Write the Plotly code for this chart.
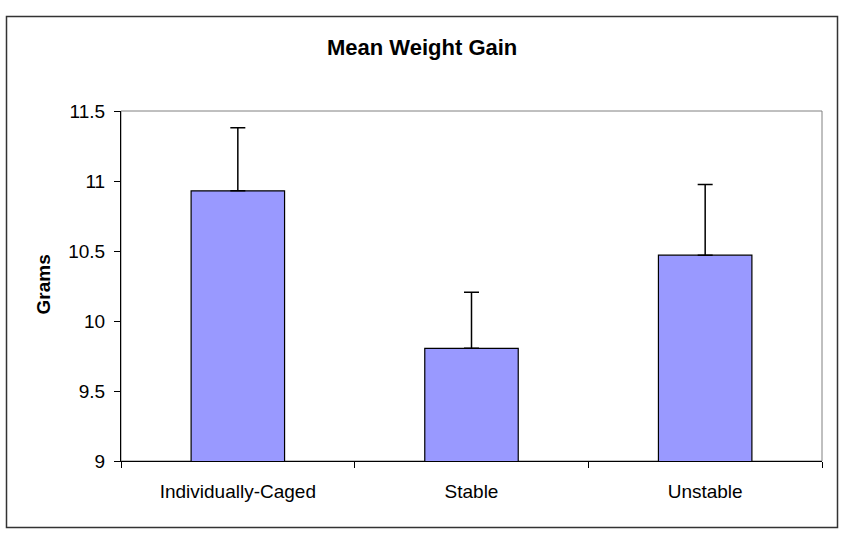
import plotly.graph_objects as go

categories = ["Individually-Caged", "Stable", "Unstable"]
means = [10.93, 9.805, 10.47]
errors_plus = [0.45, 0.40, 0.505]
y_ticks = [9, 9.5, 10, 10.5, 11, 11.5]

W, H = 849, 540
L, R, T, B = 121, 822, 111, 461
pw, ph = R - L, B - T

def px(xp):
    return (xp - L) / pw

def py(yp):
    return (B - yp) / ph

fig = go.Figure()
fig.add_trace(go.Bar(
    x=categories, y=means,
    marker=dict(color="#9999FF", line=dict(color="black", width=1.2)),
    error_y=dict(type="data", array=errors_plus, arrayminus=[0] * len(means),
                 symmetric=False, color="black", thickness=1.5, width=7.5),
    width=0.4,
    hoverinfo="skip",
))

font = "Arial, Liberation Sans, sans-serif"
fig.update_layout(
    width=W, height=H,
    margin=dict(l=L, r=W - R, t=T, b=H - B, pad=0),
    paper_bgcolor="white", plot_bgcolor="white",
    showlegend=False,
    font=dict(family=font, size=19, color="black"),
    xaxis=dict(type="category", showline=True, linecolor="black", linewidth=1,
               ticks="outside", tickson="boundaries", ticklen=6, tickcolor="black",
               showgrid=False, zeroline=False, tickfont=dict(size=19),
               ticklabelstandoff=13),
    yaxis=dict(range=[9, 11.5], tickvals=y_ticks, ticktext=[f"{v:g}" for v in y_ticks],
               showline=True, linecolor="black", linewidth=1,
               ticks="outside", ticklen=6, tickcolor="black",
               showgrid=False, zeroline=False, tickfont=dict(size=19),
               ticklabelstandoff=5),
    shapes=[
        dict(type="rect", xref="paper", yref="paper",
             x0=px(6.5), x1=px(837.5), y0=py(527.5), y1=py(16.5),
             line=dict(color="#333333", width=1.5), layer="below"),
        dict(type="rect", xref="paper", yref="paper",
             x0=0, x1=1, y0=0, y1=1,
             line=dict(color="#808080", width=1), layer="below"),
    ],
    annotations=[
        dict(text="<b>Mean Weight Gain</b>", xref="paper", yref="paper",
             x=px(422), y=py(47), showarrow=False, font=dict(size=22),
             xanchor="center", yanchor="middle"),
        dict(text="<b>Grams</b>", xref="paper", yref="paper",
             x=px(42.5), y=py(285), showarrow=False, textangle=-90,
             font=dict(size=19), xanchor="center", yanchor="middle"),
    ],
)

fig.write_html("out.html", config={"displayModeBar": False},
               post_script="document.body.style.margin='0';document.body.style.padding='0';")
